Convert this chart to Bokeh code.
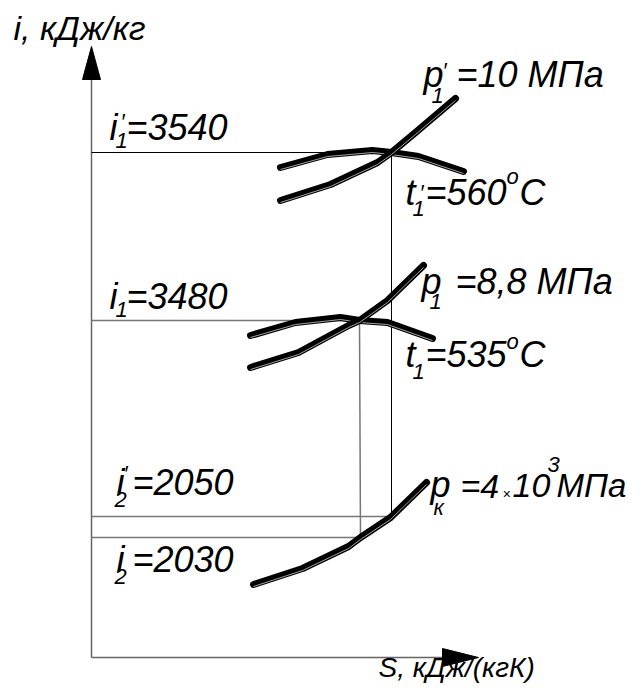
from bokeh.plotting import figure
from bokeh.models import Range1d
from bokeh.core.properties import value
from bokeh.embed import file_html
from bokeh.resources import INLINE

# ---- data (schematic i-S diagram, plot units) ----
# isotherm t1' = 560 C
s_t1p = [280, 327, 372, 391, 418, 463]
i_t1p = [167, 154, 150, 152, 156, 171]
# isobar p1' = 10 MPa
s_p1p = [280, 330, 377, 391, 415, 455]
i_p1p = [200, 184, 162, 152, 132, 98]
# isotherm t1 = 535 C
s_t1 = [250, 295, 340, 359, 387, 432]
i_t1 = [335, 322, 317, 320, 322, 338]
# isobar p1 = 8.8 MPa
s_p1 = [250, 298, 348, 359, 387, 423]
i_p1 = [367, 352, 325, 320, 300, 265]
# isobar pk
s_pk = [253, 302, 348, 360, 390, 426]
i_pk = [584, 568, 546, 537, 517, 482]

# state points (S, i level)
pt_s = [391, 359, 391, 360]
pt_i = [152, 320, 516, 537]

axis_origin = (91, 657)
axis_ytip = 46
axis_xtip = 478

FONT = "Liberation Sans"

p = figure(width=628, height=683, output_backend="svg", toolbar_location=None,
           x_range=Range1d(0, 628), y_range=Range1d(683, 0),
           min_border=0, outline_line_color=None, background_fill_color="white")
p.axis.visible = False
p.grid.visible = False

ox, oy = axis_origin
# axes
p.line([ox, ox], [oy, axis_ytip + 20], line_color="#666666", line_width=1.5)
p.line([ox, axis_xtip - 20], [oy, oy], line_color="#666666", line_width=1.5)
p.patch([ox, ox - 9, ox + 9], [axis_ytip, axis_ytip + 33, axis_ytip + 33], color="black")
p.patch([axis_xtip, axis_xtip - 36, axis_xtip - 36], [oy, oy - 9, oy + 9], color="black")

# horizontal guide lines (to y axis) and vertical lines
p.line([ox, pt_s[0]], [pt_i[0], pt_i[0]], line_color="black", line_width=1)
p.line([ox, pt_s[1]], [pt_i[1], pt_i[1]], line_color="#777777", line_width=1.5)
p.line([ox, pt_s[2]], [pt_i[2], pt_i[2]], line_color="#777777", line_width=1.5)
p.line([ox, pt_s[3]], [pt_i[3], pt_i[3]], line_color="#777777", line_width=1.5)
p.line([pt_s[0], pt_s[2]], [pt_i[0], pt_i[2]], line_color="black", line_width=1)
p.line([pt_s[1], pt_s[3]], [pt_i[1], pt_i[3]], line_color="#777777", line_width=1.5)

# thick process curves
for xs, ys in [(s_t1p, i_t1p), (s_p1p, i_p1p), (s_t1, i_t1), (s_p1, i_p1), (s_pk, i_pk)]:
    p.line(xs, ys, line_color="black", line_width=7, line_cap="round", line_join="round")
    p.line(xs, [y + 2 for y in ys], line_color="#cccccc", line_width=0.8)

# ---- text labels: (text, x, baseline y, size) ----
BIG = 36
SUB = 22
labels = [
    ("i", 109, 138, BIG), ("1", 115, 147, SUB), ("′", 120, 128, SUB), ("=3540", 126, 138, BIG),
    ("i", 109, 307, BIG), ("1", 115, 316, SUB), ("=3480", 126, 307, BIG),
    ("i", 116, 493, BIG), ("2", 114, 506, SUB), ("′", 123, 480, SUB), ("=2050", 132, 493, BIG),
    ("i", 116, 570, BIG), ("2", 114, 583, SUB), ("=2030", 132, 570, BIG),
    ("p", 423, 85, BIG), ("1", 431, 102, SUB), ("′", 442, 77, SUB), ("=10 МПа", 456, 85, BIG),
    ("t", 405, 203, BIG), ("1", 412, 215, SUB), ("′", 419, 199, SUB), ("=560", 425, 203, BIG),
    ("o", 506, 183, SUB), ("C", 519, 203, BIG),
    ("p", 421, 292, BIG), ("1", 429, 308, SUB), ("=8,8 МПа", 455, 292, BIG),
    ("t", 405, 365, BIG), ("1", 412, 378, SUB), ("=535", 425, 365, BIG),
    ("o", 506, 348, SUB), ("C", 519, 365, BIG),
    ("p", 430, 495, BIG), ("к", 433, 514, SUB), ("=4", 460, 495, 34), ("×", 502, 497, 14),
    ("10", 512, 495, 34), ("3", 547, 471, SUB), ("МПа", 556, 495, 33),
    ("i, кДж/кг", 13, 37, 34),
    ("S, кДж/(кгК)", 378, 675, 28),
]

for t, x, y, s in labels:
    # compensate for the renderer placing the alphabetic baseline slightly low
    yb = y - round(0.3 * s)
    p.text(x=[x], y=[yb], text=[t], text_font=value(FONT), text_font_style="italic",
           text_font_size=f"{s}px", text_baseline="alphabetic", text_align="left",
           text_color="black")

open("out.html", "w").write(file_html(p, INLINE))
